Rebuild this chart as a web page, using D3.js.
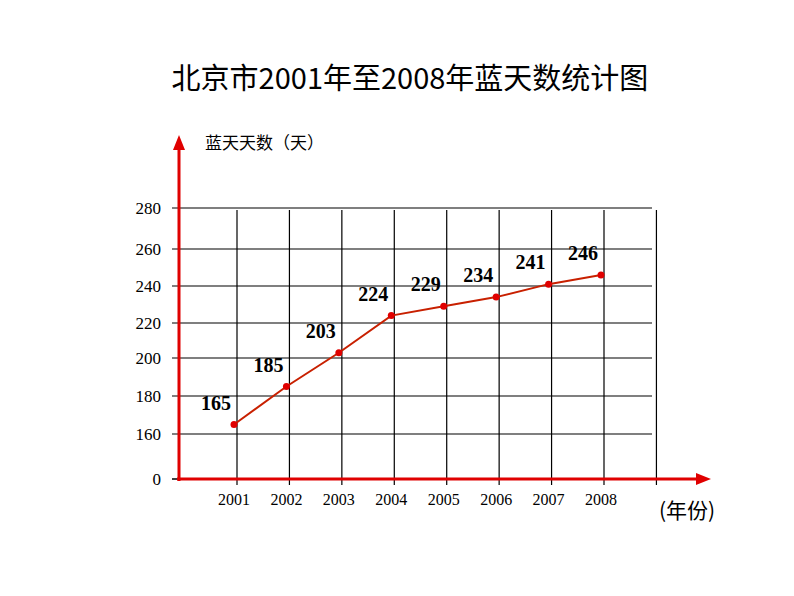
<!DOCTYPE html>
<html><head><meta charset="utf-8">
<script src="https://cdn.jsdelivr.net/npm/d3@7"></script>
<style>body{margin:0;background:#fff}</style>
</head><body>
<svg id="chart" width="794" height="596"></svg>
<script>
const years = ["2001","2002","2003","2004","2005","2006","2007","2008"];
const blueDays = [165, 185, 203, 224, 229, 234, 241, 246];
const yTicks = [0, 160, 180, 200, 220, 240, 260, 280];

const svg = d3.select('#chart');
const red = '#e00000';
const serif = '"Liberation Serif", "DejaVu Serif", serif';

// broken axis: 0 sits below 160, spacing not uniform in the original
const y = d3.scaleLinear()
    .domain(yTicks)
    .range([479, 434, 396, 358, 323, 286, 249, 208]);
const x = d3.scalePoint().domain(years).range([234, 601]);

// Title
svg.append('text').attr('x', 410).attr('y', 89).attr('text-anchor', 'middle')
    .style('font-family', '"Noto Sans CJK SC", sans-serif').style('font-size', '29px')
    .text('北京市2001年至2008年蓝天数统计图');

svg.append('text').attr('x', 205).attr('y', 149)
    .style('font-family', '"Noto Sans CJK SC", sans-serif').style('font-size', '17px')
    .text('蓝天天数（天）');

// Grid
svg.append('g').selectAll('line').data(yTicks.filter(d => d > 0)).join('line')
    .attr('x1', 172).attr('x2', 652).attr('y1', d => y(d)).attr('y2', d => y(d))
    .attr('stroke', '#000').attr('stroke-width', 1.2);
svg.append('line').attr('x1', 172).attr('x2', 179).attr('y1', y(0)).attr('y2', y(0))
    .attr('stroke', '#000').attr('stroke-width', 1.5);

const step = x.step();
const vx = years.map(d => x(d) + 3).concat([x(years[years.length - 1]) + 3 + step]);
svg.append('g').selectAll('line').data(vx).join('line')
    .attr('x1', d => d).attr('x2', d => d).attr('y1', 210).attr('y2', 485)
    .attr('stroke', '#000').attr('stroke-width', 1.2);

// Y tick labels
svg.append('g').selectAll('text').data(yTicks).join('text')
    .attr('x', 161).attr('y', d => y(d) + 6).attr('text-anchor', 'end')
    .style('font-family', serif).style('font-size', '17px')
    .text(d => d);

// Axes (red, with arrows)
svg.append('line').attr('x1', 179).attr('x2', 179).attr('y1', 481).attr('y2', 148)
    .attr('stroke', red).attr('stroke-width', 3);
svg.append('path').attr('d', 'M179,135 L173,150 L185,150 Z').attr('fill', red);
svg.append('line').attr('x1', 177).attr('x2', 698).attr('y1', 479).attr('y2', 479)
    .attr('stroke', red).attr('stroke-width', 3);
svg.append('path').attr('d', 'M711,479 L696,473 L696,485 Z').attr('fill', red);

// X labels
svg.append('g').selectAll('text').data(years).join('text')
    .attr('x', d => x(d)).attr('y', 505).attr('text-anchor', 'middle')
    .style('font-family', serif).style('font-size', '16px')
    .text(d => d);
svg.append('text').attr('x', 659).attr('y', 518)
    .style('font-family', '"Noto Sans CJK SC", sans-serif').style('font-size', '21px')
    .text('(年份)');

// Line + points
const line = d3.line().x((d, i) => x(years[i])).y(d => y(d));
svg.append('path').datum(blueDays).attr('d', line)
    .attr('fill', 'none').attr('stroke', '#c82000').attr('stroke-width', 2);
svg.append('g').selectAll('circle').data(blueDays).join('circle')
    .attr('cx', (d, i) => x(years[i])).attr('cy', d => y(d)).attr('r', 3.5)
    .attr('fill', red);

svg.append('g').selectAll('text').data(blueDays).join('text')
    .attr('x', (d, i) => x(years[i]) - 18).attr('y', d => y(d) - 15)
    .attr('text-anchor', 'middle')
    .style('font-family', serif).style('font-size', '20px').style('font-weight', 'bold')
    .text(d => d);
</script>
</body></html>
